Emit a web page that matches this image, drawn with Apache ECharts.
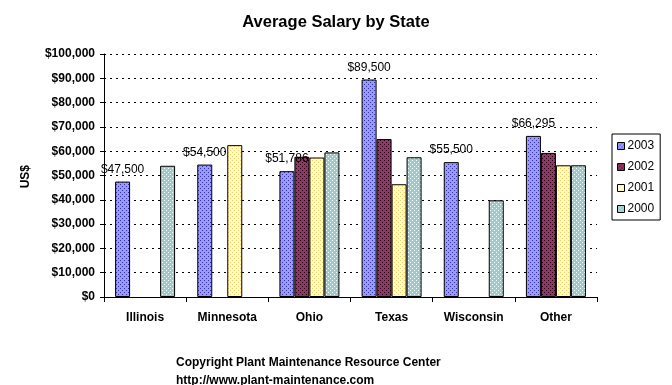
<!DOCTYPE html>
<html>
<head>
<meta charset="utf-8">
<script src="https://cdn.jsdelivr.net/npm/echarts@6/dist/echarts.min.js"></script>
<style>html,body{margin:0;padding:0;background:#fff;}#c{width:672px;height:385px;}</style>
</head>
<body>
<div id="c"></div>
<script>
const categories = ['Illinois', 'Minnesota', 'Ohio', 'Texas', 'Wisconsin', 'Other'];
const seriesNames = ['2003', '2002', '2001', '2000'];
const v2003 = [47500, 54500, 51786, 89500, 55500, 66295];
const v2002 = [null, null, 57700, 65000, null, 59300];
const v2001 = [null, 62500, 57400, 46400, null, 54200];
const v2000 = [54000, null, 59500, 57500, 39800, 54200];
const yTicks = [0, 10000, 20000, 30000, 40000, 50000, 60000, 70000, 80000, 90000, 100000];

function pattern(bg, dot) {
  const c = document.createElement('canvas');
  c.width = 4; c.height = 4;
  const g = c.getContext('2d');
  g.fillStyle = bg; g.fillRect(0, 0, 4, 4);
  g.fillStyle = dot;
  g.fillRect(0, 0, 1, 1);
  g.fillRect(2, 2, 1, 1);
  return { image: c, repeat: 'repeat' };
}
const fills = [
  pattern('#9999FF', '#333399'),
  pattern('#993366', '#1a0010'),
  pattern('#FFFFCC', '#FFCC66'),
  pattern('#99CCCC', '#FFFFFF')
];
const values = [v2003, v2002, v2001, v2000];
const fmt = v => '$' + v.toString().replace(/\B(?=(\d{3})+(?!\d))/g, ',');
const FONT = 'Liberation Sans, Arial, sans-serif';

const chart = echarts.init(document.getElementById('c'), null, { renderer: 'canvas' });
chart.setOption({
  animation: false,
  backgroundColor: '#fff',
  title: {
    text: 'Average Salary by State',
    left: 'center',
    top: 14,
    padding: 0,
    textStyle: { fontFamily: FONT, fontSize: 16.5, fontWeight: 'bold', color: '#000' }
  },
  grid: { left: 104, right: 75, top: 54, bottom: 88, containLabel: false },
  legend: {
    orient: 'vertical',
    left: 612,
    top: 134,
    width: 40,
    padding: [6, 6, 5, 5],
    itemGap: 9,
    itemWidth: 7,
    itemHeight: 7,
    borderColor: '#000',
    borderWidth: 1,
    borderRadius: 0,
    icon: 'rect',
    itemStyle: { borderColor: '#000', borderWidth: 1 },
    textStyle: { fontFamily: FONT, fontSize: 12, color: '#000', padding: [0, 0, 0, -2] },
    data: seriesNames
  },
  xAxis: {
    type: 'category',
    data: categories,
    axisLine: { lineStyle: { color: '#000', width: 1 } },
    axisTick: { show: true, length: 5, inside: false, lineStyle: { color: '#000' } },
    axisLabel: { margin: 15, fontFamily: FONT, fontSize: 12, fontWeight: 'bold', color: '#000' }
  },
  yAxis: {
    type: 'value',
    min: 0,
    max: 100000,
    interval: 10000,
    axisLine: { show: true, lineStyle: { color: '#000', width: 1 } },
    axisTick: { show: true, length: 4, lineStyle: { color: '#000' } },
    splitLine: { show: true, lineStyle: { color: '#000', type: [2, 4], width: 1 } },
    axisLabel: {
      margin: 9,
      fontFamily: FONT, fontSize: 12, fontWeight: 'bold', color: '#000',
      formatter: v => yTicks.indexOf(v) >= 0 ? fmt(v) : ''
    }
  },
  graphic: [
    {
      type: 'text', left: 20, top: 165, rotation: Math.PI / 2,
      style: { text: 'US$', fontFamily: FONT, fontSize: 12, fontWeight: 'bold', fill: '#000' },
      originX: 0, originY: 0
    },
    {
      type: 'text', left: 176, top: 357,
      style: { text: 'Copyright Plant Maintenance Resource Center', fontFamily: FONT, fontSize: 12, fontWeight: 'bold', fill: '#000' }
    },
    {
      type: 'text', left: 176, top: 375,
      style: { text: 'http://www.plant-maintenance.com', fontFamily: FONT, fontSize: 12, fontWeight: 'bold', fill: '#000' }
    }
  ],
  series: seriesNames.map((name, i) => ({
    name: name,
    type: 'bar',
    data: values[i],
    barWidth: 15,
    barGap: '0%',
    itemStyle: { color: fills[i], borderColor: '#000', borderWidth: 1 },
    label: i === 0 ? {
      show: true, position: 'top', distance: 6,
      fontFamily: FONT, fontSize: 12, color: '#000',
      formatter: p => fmt(p.value)
    } : { show: false },
    z: i === 0 ? 3 : 2
  }))
});
</script>
</body>
</html>
